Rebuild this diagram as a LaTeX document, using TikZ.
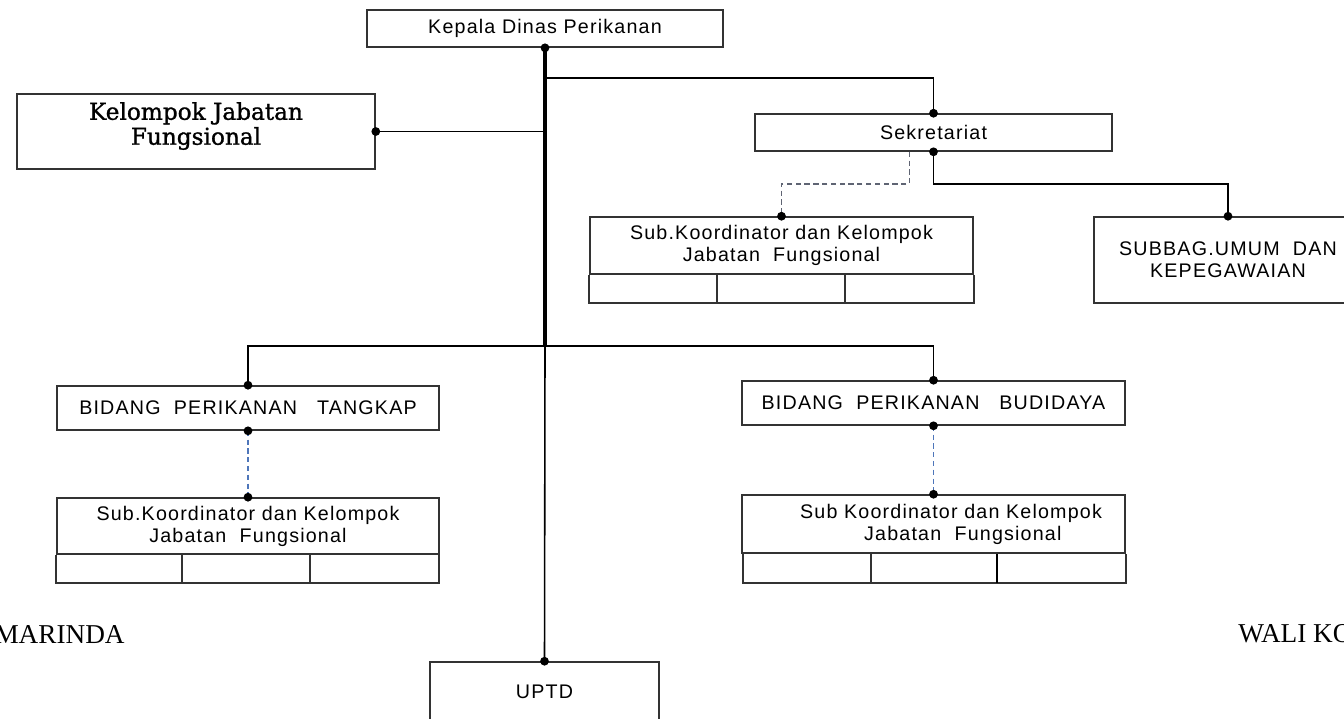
\documentclass[tikz,border=0pt]{standalone}
\usepackage{fontspec}
\newfontfamily\boxfont[LetterSpace=6]{Liberation Sans}
\newfontfamily\bookfont[FakeBold=1.2]{DejaVu Serif}
\newfontfamily\timesfont{Liberation Serif}
\newcommand\pxu{0.02cm}
\definecolor{dashblue}{RGB}{78,118,186}
\definecolor{dashgray}{RGB}{95,100,115}
\begin{document}
\begin{tikzpicture}[x=\pxu,y=-\pxu,
  orgbox/.style 2 args={draw=black!80,line width=0.9pt,inner sep=0pt,align=center,
    minimum width=#1*\pxu,minimum height=#2*\pxu,
    font=\boxfont\fontsize{11.2}{12.6}\selectfont},
  link/.style={line width=0.9pt},
  trunk/.style={line width=1.8pt},
  graydash/.style={line width=0.9pt,dashgray,dash pattern=on 3pt off 2pt},
  bluedash/.style={line width=0.9pt,dashblue,dash pattern=on 3pt off 2pt},
  plain/.style={inner sep=0pt,font=\timesfont\fontsize{15.5}{18}\selectfont}]

\useasboundingbox (0,0) rectangle (1344,718);
\clip (0,0) rectangle (1344,718);

% Boxes
\node[orgbox={356}{37}] (kepala) at (545,28.5) {Kepala Dinas Perikanan};
\node[orgbox={358}{75}] (kjf) at (196,131.5) {};
\node[orgbox={0}{0},draw=none,font=\bookfont\fontsize{13.2}{14.2}\selectfont] (kjftxt) at (196,126) {Kelompok Jabatan\\Fungsional};
\node[orgbox={357}{37}] (sekre) at (933.5,132.5) {Sekretariat};
\node[orgbox={383}{57}] (subsek) at (781.5,245.5) {Sub.Koordinator dan Kelompok\\Jabatan~~Fungsional};
\node[orgbox={268}{86}] (subbag) at (1228,260) {SUBBAG.UMUM~~DAN\\KEPEGAWAIAN};
\node[orgbox={382}{44}] (tangkap) at (248,408) {BIDANG~~PERIKANAN~~~TANGKAP};
\node[orgbox={382}{56}] (subtang) at (248,526) {Sub.Koordinator dan Kelompok\\Jabatan~~Fungsional};
\node[orgbox={383}{44}] (budidaya) at (933.5,403) {BIDANG~~PERIKANAN~~~BUDIDAYA};
\node[orgbox={383}{58}] (subbud) at (933.5,524) {};
\node[orgbox={0}{0},draw=none] (subbudtxt) at (951,524) {Sub Koordinator dan Kelompok\\\hspace*{1.2em}Jabatan~~Fungsional};
\node[orgbox={229}{60}] (uptd) at (544.5,692) {UPTD};

% Cell rows under the sub boxes
\draw[link,black!80] (subsek.south west) -- ++(0,28) -| (subsek.south east);
\draw[link,black!80] (subsek.south west) ++(128,0) -- ++(0,28);
\draw[link,black!80] (subsek.south west) ++(256,0) -- ++(0,28);
\draw[link,black!80] (subtang.south west) -- ++(0,28) -| ([xshift=-1*\pxu]subtang.south east);
\draw[link,black!80] (subtang.south west) ++(126,0) -- ++(0,28);
\draw[link,black!80] (subtang.south west) ++(254,0) -- ++(0,28);
\draw[link,black!80] ([xshift=2*\pxu]subbud.south west) -- ++(0,29) -| (subbud.south east);
\draw[link,black!80] (subbud.south west) ++(130,0) -- ++(0,29);
\draw[line width=1.4pt] (subbud.south west) ++(256,0) -- ++(0,29);

% Free texts
\node[plain,anchor=base east] (kota) at (125,643) {MARINDA};
\node[plain,anchor=base west] (wali) at (1238,642) {WALI KO};

% Connectors
\coordinate (split) at (545,346);
\draw[trunk] (kepala.south) -- (split);
\draw[link] (split) -- (uptd.north);
\draw[link] (kepala.south) ++(0,30) -| (sekre.north);
\draw[link] (kjf.east) -- (kjf.east -| kepala.south);
\draw[link] (sekre.south) -- ++(0,32) -| (subbag.north);
\draw[graydash] (sekre.south) ++(-24,0) -- ++(0,32) -| (subsek.north);
\draw[link] (tangkap.north) |- (split) -| (budidaya.north);
\draw[bluedash] (tangkap.south) -- (subtang.north);
\draw[bluedash] (budidaya.south) -- (subbud.north);

% Dots
\foreach \p in {kepala.south,kjf.east,sekre.north,sekre.south,subsek.north,subbag.north,
  tangkap.north,tangkap.south,subtang.north,budidaya.north,budidaya.south,subbud.north,uptd.north}
  \fill (\p) circle (2.5pt);

\end{tikzpicture}
\end{document}
